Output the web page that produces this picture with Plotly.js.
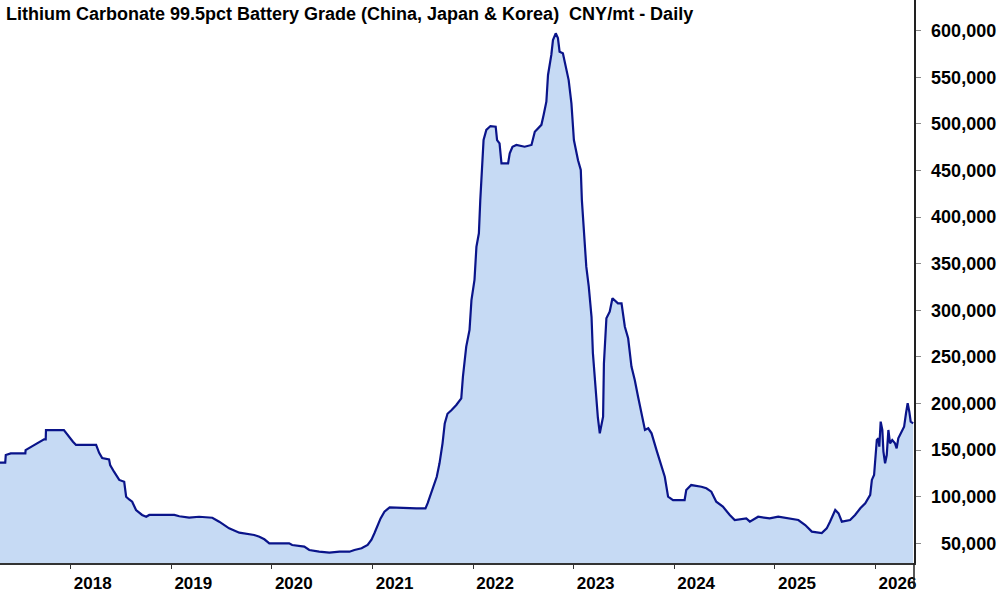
<!DOCTYPE html>
<html>
<head>
<meta charset="utf-8">
<script src="https://cdn.plot.ly/plotly-3.0.1.min.js"></script>
<style>
html,body{margin:0;padding:0;background:#fff;}
#chart{width:1000px;height:592px;}
</style>
</head>
<body>
<div id="chart"></div>
<script>
const dates = [
"2017-04-01","2017-05-08","2017-05-10","2017-05-28","2017-07-20","2017-07-21","2017-08-13","2017-09-08","2017-09-26","2017-10-02","2017-10-03","2017-12-07","2017-12-18","2017-12-29",
"2018-01-09","2018-01-20","2018-04-03","2018-04-14","2018-04-25","2018-05-20","2018-05-24","2018-06-07","2018-06-26","2018-07-14","2018-07-21","2018-08-01","2018-08-12","2018-08-26","2018-09-17","2018-10-02","2018-10-13",
"2019-01-12","2019-01-30","2019-03-07","2019-04-12","2019-05-30","2019-06-24","2019-07-30","2019-09-05","2019-10-29","2019-11-17","2019-12-05","2019-12-23",
"2020-03-04","2020-03-15","2020-04-28","2020-05-16","2020-06-21","2020-07-28","2020-09-03","2020-10-09","2020-10-27","2020-11-22","2020-12-14","2020-12-28",
"2021-01-08","2021-01-19","2021-01-30","2021-02-13","2021-03-04","2021-06-09","2021-07-12","2021-07-20","2021-07-31","2021-08-11","2021-08-22","2021-09-01","2021-09-12","2021-09-20","2021-09-30","2021-10-15","2021-11-01","2021-11-19","2021-11-25","2021-12-07","2021-12-19","2021-12-26",
"2022-01-06","2022-01-13","2022-01-22","2022-01-27","2022-02-02","2022-02-08","2022-02-18","2022-03-05","2022-03-24","2022-03-29","2022-04-07","2022-04-14","2022-05-08","2022-05-14","2022-05-24","2022-06-07","2022-07-07","2022-08-01","2022-08-13","2022-08-25","2022-09-06","2022-09-14","2022-09-24","2022-09-30","2022-10-12","2022-10-18","2022-10-28","2022-11-05","2022-11-11","2022-11-23","2022-12-03","2022-12-14","2022-12-24",
"2023-01-02","2023-01-17","2023-01-27","2023-01-31","2023-02-08","2023-02-16","2023-02-25","2023-03-07","2023-03-12","2023-03-19","2023-03-25","2023-03-30","2023-04-06","2023-04-18","2023-04-21","2023-04-30","2023-05-12","2023-05-22","2023-06-11","2023-06-24","2023-07-06","2023-07-18","2023-07-30","2023-08-11","2023-08-23","2023-09-04","2023-09-17","2023-09-29","2023-10-11","2023-10-29","2023-11-10","2023-11-28","2023-12-10","2023-12-28",
"2024-02-08","2024-02-14","2024-03-03","2024-04-09","2024-04-27","2024-05-15","2024-06-02","2024-06-26","2024-07-21","2024-08-08","2024-09-19","2024-10-02","2024-11-01","2024-12-13",
"2025-01-13","2025-02-13","2025-03-27","2025-04-21","2025-05-15","2025-06-20","2025-07-08","2025-07-20","2025-08-08","2025-08-20","2025-09-01","2025-10-01","2025-10-19","2025-11-07","2025-11-25","2025-12-13","2025-12-19","2025-12-27",
"2026-01-01","2026-01-06","2026-01-12","2026-01-15","2026-01-20","2026-01-26","2026-01-30","2026-02-05","2026-02-11","2026-02-17","2026-02-23","2026-03-03","2026-03-13","2026-03-19","2026-03-25","2026-04-07","2026-04-15","2026-04-22","2026-04-28","2026-05-04","2026-05-09","2026-05-18"
];
const prices = [
136500,136500,144700,146500,146500,150000,154000,158000,161600,161600,171500,171500,167000,163000,
159000,155500,155500,147000,141400,140000,134000,126800,118000,116000,100000,97000,94600,85700,80400,78500,80400,
80400,79000,77500,78500,77400,73200,66000,61400,58900,57000,54300,50000,
50000,48200,46400,42800,41000,40000,41000,41000,42800,44600,48200,53900,
61000,69600,76700,84000,88600,87500,87500,93000,102000,110700,121400,135800,157300,178700,189000,193000,198400,205600,228700,261000,279000,311000,
332500,368000,382600,418000,448700,482700,493500,497700,497000,482700,479000,457700,457700,468400,475500,477400,475500,477400,491600,495000,499000,509600,523800,552500,574000,590000,597200,592000,577500,575700,561400,547000,522000,
482700,461000,450500,418000,382600,346800,325300,293000,254000,225000,203700,185000,168000,185800,243000,291400,298500,312900,307500,307500,282400,270000,239600,225200,207300,189500,171600,173400,168000,150000,139400,121400,100000,96400,
96400,107200,112500,110700,109000,105400,94600,89300,80400,75000,76700,73200,78500,76700,
78500,76700,75000,69600,62500,61000,66000,73200,85700,82100,73200,75000,80400,87500,93000,102000,118000,123300,
146500,160800,162600,153600,180500,171600,148400,135800,144700,171600,157300,160800,157300,151900,162600,169700,175000,189500,200300,191200,180500,178700
];
const yTickVals = [50000,100000,150000,200000,250000,300000,350000,400000,450000,500000,550000,600000];
const yTickText = ["\u00a0\u00a050,000","100,000","150,000","200,000","250,000","300,000","350,000","400,000","450,000","500,000","550,000","600,000"];
const xTickVals = ["2018-01-01","2019-01-01","2020-01-01","2021-01-01","2022-01-01","2023-01-01","2024-01-01","2025-01-01","2026-01-01"];
const xTickText = ["2018","2019","2020","2021","2022","2023","2024","2025","2026"];
const titleText = "Lithium Carbonate 99.5pct Battery Grade (China, Japan & Korea)\u00a0 CNY/mt - Daily";

const FONT = "Liberation Sans, Arial, sans-serif";

const trace = {
  x: dates, y: prices, type: "scatter", mode: "lines",
  line: {color: "#0a148a", width: 2.2, shape: "linear"},
  fill: "tozeroy", fillcolor: "#c6daf4",
  hoverinfo: "x+y"
};

const layout = {
  width: 1000, height: 592,
  margin: {l: 0, r: 86, t: 0, b: 29, pad: 0},
  paper_bgcolor: "#ffffff", plot_bgcolor: "#ffffff",
  showlegend: false,
  title: {
    text: titleText, x: 0.006, xanchor: "left", xref: "container",
    y: 0.987, yanchor: "top", yref: "container",
    font: {family: FONT, size: 18, weight: "bold", color: "#000000"}
  },
  xaxis: {
    type: "date",
    range: ["2017-04-19", "2026-05-21"],
    tickmode: "array", tickvals: xTickVals, ticktext: xTickText,
    ticks: "outside", ticklen: 4, tickwidth: 1, tickcolor: "#333333",
    ticklabelshift: 22,
    showline: true, linecolor: "#333333", linewidth: 1.5,
    showgrid: false, zeroline: false,
    tickfont: {family: FONT, size: 17, weight: "bold", color: "#000000"}
  },
  yaxis: {
    side: "right",
    range: [28850, 632950],
    tickmode: "array", tickvals: yTickVals, ticktext: yTickText,
    ticks: "outside", ticklen: 5, tickwidth: 1, tickcolor: "#888888",
    ticklabelstandoff: 7,
    showline: true, linecolor: "#222222", linewidth: 1.5,
    showgrid: false, zeroline: false,
    tickfont: {family: FONT, size: 18, weight: "bold", color: "#000000"}
  },
  shapes: [{
    type: "line", xref: "paper", yref: "paper",
    x0: 1, x1: 1, y0: 0, y1: -0.045,
    line: {color: "#222222", width: 1.5}
  }]
};

Plotly.newPlot("chart", [trace], layout, {displayModeBar: false, staticPlot: true});
</script>
</body>
</html>
